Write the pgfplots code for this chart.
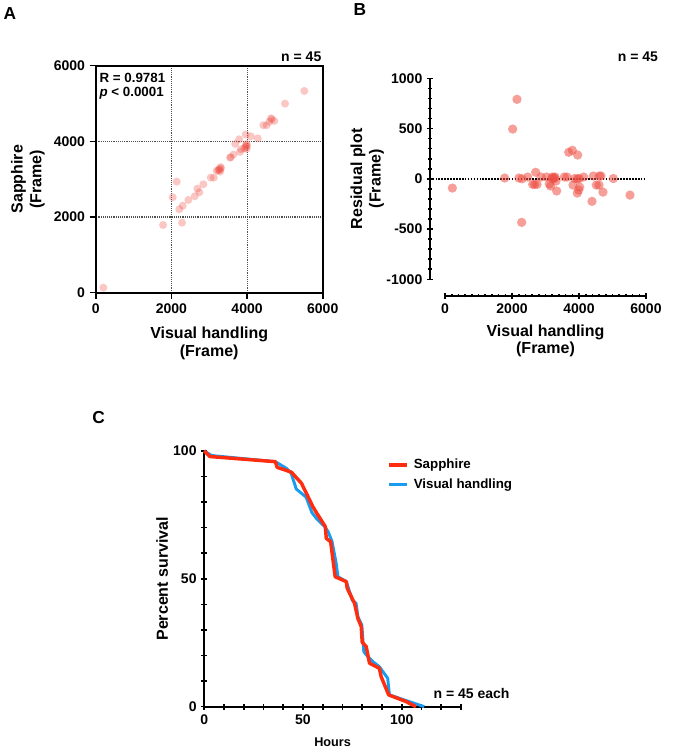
\documentclass[border=0pt]{standalone}
\usepackage{fontspec}
\setmainfont{Liberation Sans}
\usepackage{pgfplots}
\pgfplotsset{compat=1.18}

\definecolor{ptred}{RGB}{238,80,70}
\definecolor{survred}{RGB}{255,45,15}
\definecolor{survblue}{RGB}{25,155,240}
\definecolor{gridgray}{RGB}{80,80,80}

\newcommand{\tf}{\bfseries\fontsize{10.5}{11.5}\selectfont}
\newcommand{\lf}{\bfseries\fontsize{12}{14}\selectfont}

\pgfplotsset{
  prism/.style={
    scale only axis,
    anchor=south west,
    tick label style={font=\tf},
    label style={font=\lf, align=center},
    /pgf/number format/assume math mode=true,
    /pgf/number format/1000 sep={},
    axis line style={line width=1.5pt, black},
    tick style={line width=1.2pt, black},
    major tick length=4.5pt,
    minor tick length=2.5pt,
    tick align=outside,
  }
}

\begin{document}
\begin{tikzpicture}
\useasboundingbox (0,0) rectangle (504pt,564pt);

% panel letters
\node[font=\bfseries\fontsize{13}{14}\selectfont] at (7.5pt,554pt) {A};
\node[font=\bfseries\fontsize{13}{14}\selectfont] at (270pt,556.5pt) {B};
\node[font=\bfseries\fontsize{13}{14}\selectfont] at (74pt,250.5pt) {C};

% ---------------- A: correlation
\begin{axis}[prism,
  at={(71.8pt,344.5pt)},
  width=170.25pt, height=170.25pt,
  xmin=0, xmax=6000, ymin=0, ymax=6000,
  xtick={0,2000,4000,6000}, ytick={0,2000,4000,6000},
  xtick pos=bottom, ytick pos=left,
  grid=major,
  grid style={densely dotted, line width=0.8pt, gridgray},
  xlabel={Visual handling\\(Frame)},
  ylabel={Sapphire\\(Frame)},
  xlabel shift=3pt,
  clip=false,
]
\addplot[only marks, mark=*, mark size=3pt, ptred,
  mark options={ptred, draw opacity=0, fill opacity=0.32}]
  coordinates {
  (201,132) (1779,1789) (2035,2521) (2141,2934) (2211,2204)
  (2300,2300) (2281,1850) (2448,2450) (2617,2548) (2687,2749)
  (2739,2654) (2845,2865) (3040,3040) (3120,3040) (3198,3225)
  (3240,3230) (3260,3260) (3290,3200) (3300,3318) (3280,3250)
  (3310,3290) (3550,3570) (3570,3580) (3640,3650) (3690,3930)
  (3790,4054) (3814,3720) (3840,3790) (3927,3815) (3970,3900)
  (3990,3930) (3990,3800) (4000,3870) (3960,3850) (3965,4177)
  (4098,4133) (4283,4080) (4430,4425) (4518,4425) (4590,4520)
  (4635,4610) (4650,4580) (4720,4540) (5004,4996) (5514,5331)
  };
\node[anchor=north west, align=left, inner sep=0pt,
  font=\bfseries\fontsize{10}{10.5}\selectfont]
  at (axis description cs:0.016,0.968) {R = 0.9781\\\textit{p} < 0.0001};
\node[anchor=south east, inner sep=0pt, font=\tf] at (axis description cs:0.995,1.016) {n = 45};
\end{axis}

% ---------------- B: residuals
\begin{axis}[prism,
  at={(333.75pt,354.5pt)},
  width=150.75pt, height=150.75pt,
  xmin=0, xmax=6000, ymin=-1000, ymax=1000,
  axis lines=left, axis line style={-},
  axis x line shift=12.3pt, axis y line shift=11.25pt,
  xtick={0,2000,4000,6000}, minor x tick num=9,
  ytick={-1000,-500,0,500,1000}, minor y tick num=4,
  xlabel={Visual handling\\(Frame)},
  ylabel={Residual plot\\(Frame)},
  xlabel style={font=\bfseries\fontsize{12}{12.5}\selectfont},
  ylabel shift=-5pt, xlabel shift=2pt,
  clip=false,
]
\addplot[black, densely dotted, line width=1.2pt] coordinates {(-370,0) (6000,0)};
\addplot[only marks, mark=*, mark size=3.5pt, ptred,
  mark options={ptred, draw opacity=0, fill opacity=0.55}]
  coordinates {
  (219,-92) (1781,8) (2020,495) (2149,791) (2209,8)
  (2289,-433) (2300,0) (2468,18) (2617,-55) (2677,-55)
  (2707,65) (2747,-55) (2866,18) (3035,18) (3114,-52)
  (3154,-72) (3204,18) (3244,0) (3283,18) (3313,-22)
  (3333,-121) (3562,18) (3642,18) (3692,264) (3801,284)
  (3821,-62) (3871,3) (3960,237) (3950,-142) (3990,-112)
  (4020,-82) (4000,3) (4139,18) (4388,-224) (4427,28)
  (4517,-62) (4597,-62) (4607,28) (4657,28) (4716,-132)
  (5025,3) (5522,-162) (3200,5) (3270,10) (3960,0)
  };
\end{axis}
\node[anchor=east, inner sep=0pt, font=\tf] at (493.7pt,521.3pt) {n = 45};

% ---------------- C: survival
\begin{axis}[prism,
  at={(153.2pt,34pt)},
  width=192.5pt, height=191.8pt,
  xmin=0, xmax=130, ymin=0, ymax=100,
  axis lines=left, axis line style={-},
  xtick={0,50,100}, minor xtick={10,20,30,40,60,70,80,90,110,120,130},
  ytick={0,50,100}, minor ytick={10,20,30,40,60,70,80,90},
  minor tick length=4.5pt,
  xlabel={Hours},
  xlabel style={font=\bfseries\fontsize{9.5}{11}\selectfont},
  ylabel={Percent survival},
  xlabel shift=3pt, ylabel shift=-3pt,
  clip=false,
  reverse legend,
  legend cell align=left,
  legend style={draw=none, fill=none, at={(axis description cs:0.698,0.99)},
    anchor=north west, font=\bfseries\fontsize{10}{11}\selectfont, row sep=2pt,
    /tikz/every odd column/.append style={column sep=2pt}},
  legend image code/.code={\draw[#1] (0pt,0pt) -- (13pt,0pt);},
]
\addplot[survblue, line width=2.2pt, line join=round] coordinates {
  (0,100) (3.7,98.2) (36,95.8) (41.6,93.2) (44,91.3) (46.6,85.1)
  (51.6,81.9) (54.5,75.9) (56.7,73.7) (61,70.4) (62.7,68.5) (64.7,64.6)
  (66.8,56.1) (67.7,50.8) (72,48.9) (74.9,41.7) (76.9,40.4) (77.8,35.2)
  (79.8,31.9) (80.8,21.5) (82.8,19.6) (85.4,17.6) (88.7,15.6) (92.9,11.1)
  (93.8,4.6) (111.4,0)
};
\addlegendentry{Visual handling}
\addplot[survred, line width=2.6pt, line join=round] coordinates {
  (0,100) (2.9,97.8) (36,95.8) (36.9,93.6) (44.1,91.7) (49.2,87.4)
  (51.3,84.1) (55,78.2) (56.7,76) (61.3,70.4) (61.8,65.8) (64,64.5)
  (66.3,50.8) (71.9,48.9) (72.4,46.3) (76.1,40.4) (77.8,34.5) (79.5,31.3)
  (80,25.2) (82,23.5) (83.7,17) (88.7,15) (89.6,11.7) (93.4,4.6)
  (102.2,2) (107.2,0)
};
\addlegendentry{Sapphire}
\end{axis}
\node[anchor=west, inner sep=0pt, font=\tf] at (325pt,44pt) {n = 45 each};

\end{tikzpicture}
\end{document}
